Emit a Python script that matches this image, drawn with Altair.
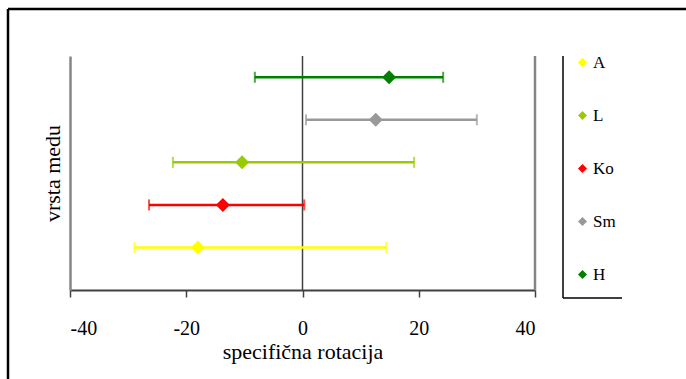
import altair as alt
import pandas as pd

# Species of honey, their mean specific rotation and the interval bounds
vrste = ["A", "L", "Ko", "Sm", "H"]
redovi = [1, 3, 2, 4, 5]
sredina = [-18.0, -10.4, -13.7, 12.6, 14.9]
donja = [-28.9, -22.3, -26.4, 0.6, -8.2]
gornja = [14.4, 19.2, 0.3, 30.0, 24.2]
boje = ["#FFFF00", "#99CC00", "#FF0000", "#999999", "#008000"]
x_oznake = [-40, -20, 0, 20, 40]

df = pd.DataFrame({
    "vrsta": vrste,
    "red": redovi,
    "sredina": sredina,
    "donja": donja,
    "gornja": gornja,
})

W, H = 465, 234
FONT = "Liberation Serif"

x_scale = alt.Scale(domain=[-40, 40], nice=False, zero=False)
y_scale = alt.Scale(domain=[0, 5.5], nice=False, zero=False)

boja = alt.Color(
    "vrsta:N",
    scale=alt.Scale(domain=vrste, range=boje),
    legend=alt.Legend(title=None, orient="none", legendX=504, legendY=-2),
)

x_axis = alt.Axis(
    values=x_oznake, labelExpr="'' + datum.value", title="specifična rotacija",
    domainColor="#404040", domainWidth=2, tickColor="#404040",
    tickWidth=1.5, tickSize=7, labelPadding=21, titlePadding=3,
)
y_axis = alt.Axis(
    title="vrsta medu", labels=False, ticks=False,
    domainColor="#868686", domainWidth=2.5, titlePadding=6,
)

base = alt.Chart(df)

# horizontal interval lines
linije = base.mark_rule(strokeWidth=2.5).encode(
    x=alt.X("donja:Q", scale=x_scale, axis=x_axis),
    x2="gornja:Q",
    y=alt.Y("red:Q", scale=y_scale, axis=y_axis),
    color=boja,
)

# end caps
kape_l = base.mark_tick(orient="vertical", thickness=2, size=11).encode(
    x=alt.X("donja:Q", scale=x_scale, axis=x_axis),
    y=alt.Y("red:Q", scale=y_scale, axis=y_axis),
    color=boja,
)
kape_d = base.mark_tick(orient="vertical", thickness=2, size=11).encode(
    x=alt.X("gornja:Q", scale=x_scale, axis=x_axis),
    y=alt.Y("red:Q", scale=y_scale, axis=y_axis),
    color=boja,
)

# mean markers
tocke = base.mark_point(shape="diamond", filled=True, size=196, opacity=1).encode(
    x=alt.X("sredina:Q", scale=x_scale, axis=x_axis),
    y=alt.Y("red:Q", scale=y_scale, axis=y_axis),
    color=boja,
)

jedan = alt.Chart(pd.DataFrame({"v": [0]}))

nula = alt.Chart(pd.DataFrame({"x": [0]})).mark_rule(color="#404040", strokeWidth=1.5).encode(
    x=alt.X("x:Q", scale=x_scale, axis=x_axis)
)
desno = alt.Chart(pd.DataFrame({"x": [40]})).mark_rule(color="#868686", strokeWidth=2.5).encode(
    x=alt.X("x:Q", scale=x_scale, axis=x_axis)
)

# outer frame and legend box edges
okvir_l = jedan.mark_rule(color="black", strokeWidth=2.5).encode(
    x=alt.value(-62), y=alt.value(-47), y2=alt.value(H + 120)
)
okvir_g = jedan.mark_rule(color="black", strokeWidth=2.5).encode(
    x=alt.value(-62), x2=alt.value(W + 200), y=alt.value(-47)
)
leg_l = jedan.mark_rule(color="black", strokeWidth=1.5).encode(
    x=alt.value(493), y=alt.value(0), y2=alt.value(242)
)
leg_d = jedan.mark_rule(color="black", strokeWidth=1.5).encode(
    x=alt.value(493), x2=alt.value(552), y=alt.value(242)
)

chart = alt.layer(
    nula, desno, linije, kape_l, kape_d, tocke, okvir_l, okvir_g, leg_l, leg_d
).properties(
    width=W, height=H,
    autosize=alt.AutoSizeParams(type="none"),
    padding={"left": 70, "top": 56, "right": 151, "bottom": 89},
    background="white",
).configure(
    font=FONT
).configure_view(
    stroke=None
).configure_axis(
    grid=False, labelFont=FONT, labelFontSize=20, labelColor="black",
    titleFont=FONT, titleFontSize=22, titleFontWeight="normal", titleColor="black",
).configure_legend(
    symbolType="diamond", symbolSize=81, symbolStrokeWidth=0, symbolOpacity=1,
    labelFont=FONT, labelFontSize=17, labelColor="black", padding=0,
    labelOffset=2, rowPadding=35,
)

chart.save("out.html", embed_options={"renderer": "svg", "actions": False})
